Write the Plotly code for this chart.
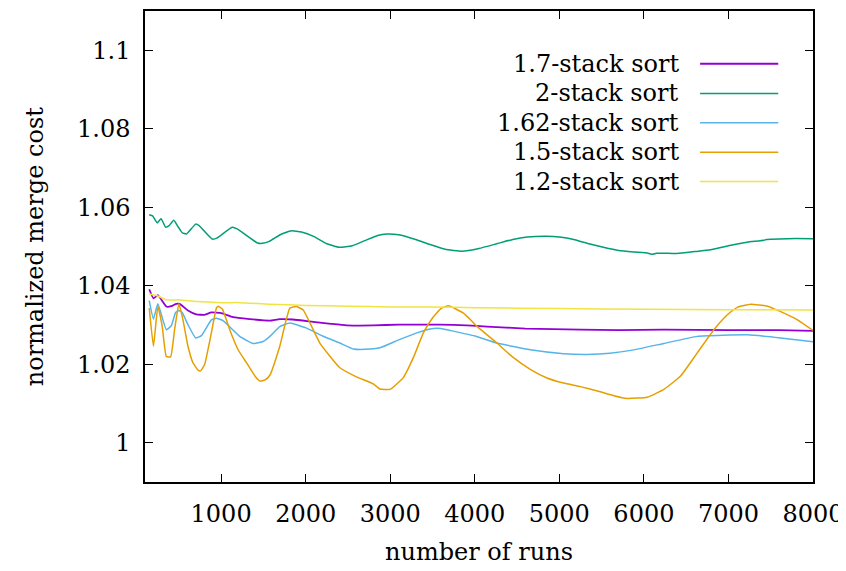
import plotly.graph_objects as go

# ---- data ----
x_17 = [150, 200, 252, 352, 411, 470, 509, 608, 707, 806, 885, 1003, 1141, 1339, 1576, 1694, 1850, 2089, 2300, 2484, 2800, 3100, 3590, 3900, 4143, 4600, 5249, 5700, 6233, 7000, 7600, 8000]
y_17 = [1.0391, 1.0368, 1.0376, 1.0347, 1.0348, 1.0354, 1.0354, 1.0337, 1.0327, 1.0326, 1.0332, 1.0330, 1.0320, 1.0315, 1.0311, 1.0315, 1.0314, 1.0308, 1.0303, 1.0299, 1.0299, 1.0301, 1.0301, 1.0299, 1.0296, 1.0291, 1.0288, 1.0287, 1.0288, 1.0287, 1.0287, 1.0285]

x_2 = [150, 190, 245, 290, 345, 385, 440, 495, 540, 590, 700, 740, 895, 955, 1130, 1190, 1430, 1490, 1570, 1700, 1830, 1950, 2100, 2250, 2400, 2550, 2700, 2850, 2960, 3100, 3300, 3470, 3650, 3850, 4050, 4260, 4450, 4620, 4850, 5000, 5170, 5350, 5520, 5700, 5880, 6050, 6100, 6150, 6390, 6600, 6790, 7000, 7220, 7420, 7450, 7700, 8000]
y_2 = [1.0581, 1.0578, 1.0560, 1.0571, 1.0549, 1.0553, 1.0567, 1.0549, 1.0535, 1.0532, 1.0557, 1.0553, 1.0519, 1.0522, 1.0549, 1.0545, 1.0509, 1.0508, 1.0513, 1.0530, 1.0540, 1.0537, 1.0525, 1.0507, 1.0498, 1.0502, 1.0515, 1.0528, 1.0532, 1.0530, 1.0518, 1.0505, 1.0493, 1.0488, 1.0495, 1.0507, 1.0518, 1.0524, 1.0526, 1.0524, 1.0518, 1.0507, 1.0498, 1.0490, 1.0486, 1.0483, 1.0480, 1.0483, 1.0482, 1.0487, 1.0492, 1.0502, 1.0511, 1.0516, 1.0518, 1.0520, 1.0520]

x_162 = [150, 200, 252, 352, 411, 462, 501, 541, 608, 699, 767, 885, 944, 1023, 1220, 1378, 1497, 1576, 1694, 1813, 2011, 2200, 2405, 2563, 2700, 2879, 3100, 3314, 3472, 3600, 3709, 4000, 4262, 4656, 5051, 5328, 5600, 5865, 6236, 6631, 7224, 7618, 8000]
y_162 = [1.0362, 1.0315, 1.0354, 1.0288, 1.0298, 1.0332, 1.0337, 1.0331, 1.0301, 1.0267, 1.0273, 1.0313, 1.0317, 1.0311, 1.0271, 1.0253, 1.0258, 1.0271, 1.0296, 1.0305, 1.0292, 1.0272, 1.0254, 1.0239, 1.0238, 1.0242, 1.0262, 1.0280, 1.0290, 1.0291, 1.0286, 1.0272, 1.0254, 1.0237, 1.0227, 1.0225, 1.0228, 1.0236, 1.0253, 1.0271, 1.0275, 1.0267, 1.0257]

x_15 = [150, 200, 252, 304, 352, 403, 450, 501, 549, 608, 667, 727, 758, 806, 873, 944, 963, 1016, 1102, 1201, 1300, 1400, 1460, 1520, 1576, 1694, 1813, 1892, 1971, 2168, 2405, 2600, 2800, 2879, 2998, 3155, 3280, 3392, 3500, 3600, 3689, 3866, 4050, 4262, 4450, 4656, 4854, 5050, 5249, 5450, 5644, 5802, 6039, 6236, 6434, 6631, 6828, 6987, 7105, 7263, 7461, 7618, 7816, 8000]
y_15 = [1.0343, 1.0246, 1.0347, 1.0296, 1.0220, 1.0219, 1.0288, 1.0354, 1.0313, 1.0246, 1.0204, 1.0185, 1.0183, 1.0200, 1.0267, 1.0343, 1.0348, 1.0340, 1.0288, 1.0237, 1.0204, 1.0170, 1.0157, 1.0160, 1.0172, 1.0246, 1.0343, 1.0347, 1.0338, 1.0254, 1.0191, 1.0168, 1.0150, 1.0137, 1.0136, 1.0166, 1.0220, 1.0280, 1.0318, 1.0342, 1.0349, 1.0330, 1.0292, 1.0254, 1.0218, 1.0187, 1.0165, 1.0152, 1.0143, 1.0132, 1.0120, 1.0113, 1.0116, 1.0136, 1.0170, 1.0229, 1.0288, 1.0326, 1.0345, 1.0353, 1.0348, 1.0334, 1.0313, 1.0286]

x_12 = [150, 252, 352, 509, 707, 1000, 1220, 1567, 2000, 2500, 3000, 3500, 4000, 5000, 6000, 7000, 8000]
y_12 = [1.0379, 1.0374, 1.0364, 1.0364, 1.0360, 1.0357, 1.0357, 1.0353, 1.0350, 1.0348, 1.0346, 1.0346, 1.0344, 1.0342, 1.0340, 1.0339, 1.0338]

series_names = ["1.7-stack sort", "2-stack sort", "1.62-stack sort", "1.5-stack sort", "1.2-stack sort"]
series_x = [x_17, x_2, x_162, x_15, x_12]
series_y = [y_17, y_2, y_162, y_15, y_12]
colors = ["#9400D3", "#009E73", "#56B4E9", "#E69F00", "#F0E442"]
widths = [1.8, 1.5, 1.5, 1.5, 1.5]

x_ticks = [1000, 2000, 3000, 4000, 5000, 6000, 7000, 8000]
y_ticks = [1.0, 1.02, 1.04, 1.06, 1.08, 1.1]
y_tick_text = ["1", "1.02", "1.04", "1.06", "1.08", "1.1"]

FONT = "DejaVu Serif"
FS = 24

fig = go.Figure()
for name, xs, ys, c, w in zip(series_names, series_x, series_y, colors, widths):
    fig.add_trace(go.Scatter(x=xs, y=ys, mode="lines", name=name,
                             line=dict(color=c, width=w, shape="spline", smoothing=0.4),
                             showlegend=False))

# manual gnuplot-style legend: right-aligned text, sample line on the right
leg_y = [0.888, 0.825, 0.763, 0.700, 0.638]
for name, c, w, yy in zip(series_names, colors, widths, leg_y):
    fig.add_annotation(xref="paper", yref="paper", x=0.803, y=yy, text=name,
                       showarrow=False, xanchor="right", yanchor="middle",
                       font=dict(family=FONT, size=FS, color="black"))
    fig.add_shape(type="line", xref="paper", yref="paper", x0=0.831, x1=0.948,
                  y0=yy, y1=yy, line=dict(color=c, width=w))

fig.add_annotation(xref="paper", yref="paper", x=0.5, y=-0.148, text="number of runs",
                   showarrow=False, xanchor="center", yanchor="middle",
                   font=dict(family=FONT, size=FS, color="black"))
fig.add_annotation(xref="paper", yref="paper", x=-0.165, y=0.5, text="normalized merge cost",
                   showarrow=False, xanchor="center", yanchor="middle", textangle=-90,
                   font=dict(family=FONT, size=FS, color="black"))

fig.update_layout(
    width=838, height=563,
    margin=dict(l=137, r=33, t=1, b=89),
    paper_bgcolor="white", plot_bgcolor="white",
    font=dict(family=FONT, size=FS, color="black"),
    xaxis=dict(range=[100, 8000], tickvals=x_ticks, ticks="inside", ticklen=8,
               tickwidth=1, tickcolor="black", showline=True, linecolor="black",
               linewidth=1.5, mirror="ticks", showgrid=False, zeroline=False,
               ticklabelstandoff=9),
    yaxis=dict(range=[0.99, 1.11], tickvals=y_ticks, ticktext=y_tick_text,
               ticks="inside", ticklen=8, tickwidth=1, tickcolor="black",
               showline=True, linecolor="black", linewidth=1.5, mirror="ticks",
               showgrid=False, zeroline=False, ticklabelstandoff=8),
)

fig.write_html("out.html")
